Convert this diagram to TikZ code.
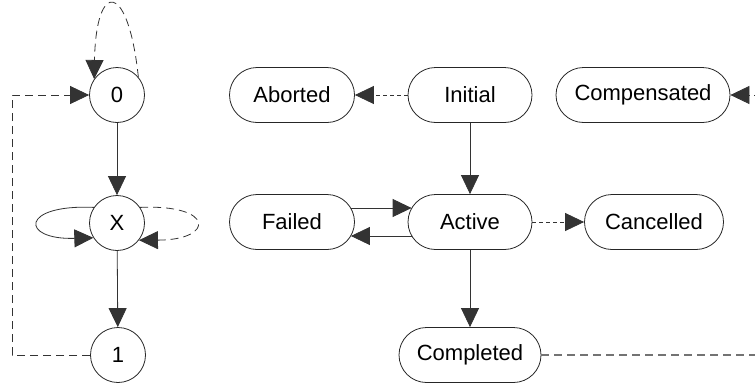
\documentclass[tikz,border=0pt]{standalone}
\usepackage{fontspec}
\setmainfont{Liberation Sans}
\usetikzlibrary{arrows.meta}
\tikzset{
  line/.style={draw=black!80, line width=0.8pt},
  tip/.style={-{Triangle[length=19pt,width=18pt]}},
  dsh/.style={dash pattern=on 8pt off 5pt},
  dshort/.style={dash pattern=on 4pt off 3pt},
  statecirc/.style={circle, draw=black!85, line width=0.8pt, minimum size=55pt, inner sep=0pt, font=\fontsize{22}{25}\selectfont},
  statebox/.style={rounded corners=27.5pt, draw=black!85, line width=0.8pt, minimum height=55pt, inner sep=0pt, font=\fontsize{22}{25}\selectfont},
}
\begin{document}
\begin{tikzpicture}[x=1pt, y=-1pt]
\useasboundingbox (0,0) rectangle (755,383);
\clip (0,0) rectangle (755,383);

% three-valued state machine on the left
\node[statecirc] (c0) at (117,95) {0};
\node[statecirc] (cx) at (117,223) {X};
\node[statecirc] (c1) at (118,355) {1};

\draw[line,tip] (c0) -- (cx);
\draw[line,tip] (cx) -- (c1);
\draw[line,tip,dsh] (c0.40) .. controls (128,-20) and (96,-20) .. (c0.145);
\draw[line,tip] (cx.146) .. controls (20,204) and (20,240) .. (cx.212);
\draw[line,tip,dsh] (cx.34) .. controls (215,204) and (215,240) .. (cx.322);
\draw[line,tip,dsh] (c1.west) -- ++(-78,0) |- (c0.west);

% activity states
\node[statebox, minimum width=125pt] (abo) at (292,95) {Aborted};
\node[statebox, minimum width=124pt] (ini) at (470,95) {Initial};
\node[statebox, minimum width=174pt] (cmp) at (643,95) {Compensated};
\node[statebox, minimum width=125pt] (fai) at (292,222) {Failed};
\node[statebox, minimum width=124pt] (act) at (470,222) {Active};
\node[statebox, minimum width=139pt] (can) at (654,222) {Cancelled};
\node[statebox, minimum width=142pt] (com) at (470,355) {Completed};

\draw[line,tip,dshort] (ini) -- (abo);
\draw[line,tip] (ini) -- (act);
\draw[line,tip] ([shift={(-4pt,14pt)}]fai.east) -- ([shift={(4pt,14pt)}]act.west);
\draw[line,tip] ([shift={(4pt,-14pt)}]act.west) -- ([shift={(-4pt,-14pt)}]fai.east);
\draw[line,tip,dshort] (act) -- (can);
\draw[line,tip] (act) -- (com);
\draw[draw=black!55, line width=1.3pt, dsh] (com.east) -- ++(260,0) coordinate (cr);
\draw[line,tip,dsh] (cr) |- (cmp.east);
\end{tikzpicture}
\end{document}
